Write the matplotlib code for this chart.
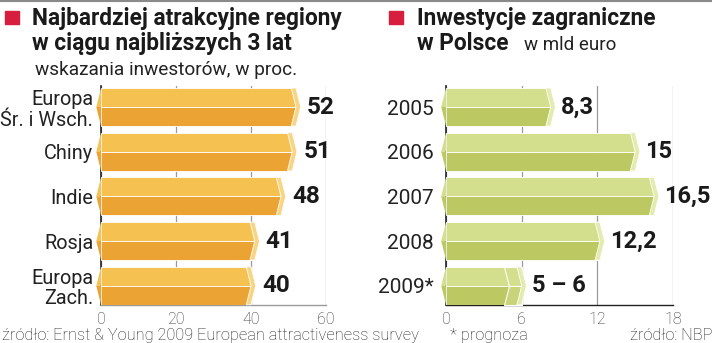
import matplotlib
matplotlib.use('Agg')
import matplotlib.pyplot as plt
from matplotlib.patches import Polygon
from matplotlib.lines import Line2D

plt.rcParams['font.family'] = ['Roboto', 'DejaVu Sans']

# left chart: most attractive regions (investor answers, %)
regions = ['Europa\nŚr. i Wsch.', 'Chiny', 'Indie', 'Rosja', 'Europa\nZach.']
region_pct = [52, 51, 48, 41, 40]
region_ticks = [0, 20, 40, 60]

# right chart: foreign investment in Poland, bn euro
years = ['2005', '2006', '2007', '2008', '2009*']
invest = [8.3, 15, 16.5, 12.2, 5]
invest_hi = [None, None, None, None, 6]   # 2009 forecast range 5-6
invest_labels = ['8,3', '15', '16,5', '12,2', '5 – 6']
invest_ticks = [0, 6, 12, 18]

orange = ('#F5C150', '#EBA434', '#F8D584')
green = ('#D4DF8D', '#BCC962', '#E3EBAE')
red = '#D81E3E'

W, H = 712, 343
fig = plt.figure(figsize=(W / 100, H / 100), dpi=100)


def fx(px):
    return px / W


def fy(py):
    return 1 - py / H


def draw_bars(ax, values, colors, xmax, hi=None):
    h = 0.85
    d = 0.021 * xmax
    light, dark, cap = colors
    for i, v in enumerate(values):
        top, mid, bot = i - h / 2, i, i + h / 2
        ax.barh(i - h / 4, v, height=h / 2, color=light, edgecolor='white', lw=0.6, zorder=3)
        ax.barh(i + h / 4, v, height=h / 2, color=dark, edgecolor='white', lw=0.6, zorder=3)
        # pointed left end
        ax.add_patch(Polygon([(0, top), (-d, mid), (0, mid)], closed=True, fc=light,
                             ec='none', zorder=3, clip_on=False))
        ax.add_patch(Polygon([(0, mid), (-d, mid), (0, bot)], closed=True, fc=dark,
                             ec='none', zorder=3, clip_on=False))
        end = v
        if hi is not None and hi[i] is not None:
            end = hi[i]
            ax.add_patch(Polygon([(v - d, top), (end, top), (end, mid), (v, mid)], closed=True,
                                 fc=light, ec='white', lw=0.8, zorder=4, clip_on=False))
            ax.add_patch(Polygon([(v, mid), (end, mid), (end, bot), (v - d, bot)], closed=True,
                                 fc='#C8D37A', ec='white', lw=0.8, zorder=4, clip_on=False))
        # bevelled right end cap
        ax.add_patch(Polygon([(end - d, top), (end, top), (end + d, mid), (end, bot),
                              (end - d, bot), (end, mid)], closed=True, fc=cap,
                             ec='white', lw=0.6, zorder=5, clip_on=False))


def style_axes(ax, ticks, labels, bottom_color, pad, size):
    ax.set_xlim(ticks[0], ticks[-1])
    ax.set_ylim(4.43, -0.47)
    ax.set_xticks(ticks)
    ax.set_yticks(range(len(labels)), labels)
    ax.grid(axis='x', color='#9A9A9A', lw=0.9, zorder=0)
    ax.set_axisbelow(True)
    ax.tick_params(length=0)
    ax.tick_params(axis='x', pad=5, labelsize=11.5, labelcolor='#333333')
    ax.tick_params(axis='y', pad=pad, labelsize=size, labelcolor='#222222')
    for t in ax.get_xticklabels():
        t.set_fontweight('light')
    for t in ax.get_yticklabels():
        t.set_multialignment('right')
        t.set_linespacing(1.1)
    for s in ['top', 'right']:
        ax.spines[s].set_visible(False)
    ax.spines['left'].set_color('#222222')
    ax.spines['left'].set_linewidth(1.2)
    ax.spines['left'].set_zorder(1)
    ax.spines['bottom'].set_color(bottom_color)
    ax.spines['bottom'].set_linewidth(1.0)
    ax.spines['bottom'].set_zorder(1)


ax1 = fig.add_axes([fx(101), fy(305), (326 - 101) / W, (305 - 86) / H])
ax2 = fig.add_axes([fx(446), fy(305), (673 - 446) / W, (305 - 86) / H])

draw_bars(ax1, region_pct, orange, region_ticks[-1])
style_axes(ax1, region_ticks, regions, '#9A9A9A', 5.5, 14.3)
for i, v in enumerate(region_pct):
    ax1.annotate(str(v), xy=(v, i), xytext=(11, 0), textcoords='offset pixels',
                 va='center', ha='left', fontsize=17.5, fontweight='bold', color='#1A1A1A',
                 annotation_clip=False)

draw_bars(ax2, invest, green, invest_ticks[-1], hi=invest_hi)
style_axes(ax2, invest_ticks, years, '#222222', 9, 15)
for i, v in enumerate(invest):
    end = invest_hi[i] if invest_hi[i] is not None else v
    ax2.annotate(invest_labels[i], xy=(end, i), xytext=(10, 0), textcoords='offset pixels',
                 va='center', ha='left', fontsize=17, fontweight='bold', color='#1A1A1A',
                 annotation_clip=False)

# headings
fig.add_artist(Line2D([0, 1], [fy(1), fy(1)], color='#8A8A8A', lw=1.5))
fig.patches.append(plt.Rectangle((fx(5), fy(24)), 14 / W, 13 / H, color=red,
                                 transform=fig.transFigure, figure=fig))
fig.patches.append(plt.Rectangle((fx(389), fy(24)), 14 / W, 13 / H, color=red,
                                 transform=fig.transFigure, figure=fig))
title_kw = dict(fontsize=16.3, fontweight='bold', color='#1A1A1A', va='baseline')
fig.text(fx(32), fy(25), 'Najbardziej atrakcyjne regiony', **title_kw)
fig.text(fx(32), fy(50), 'w ciągu najbliższych 3 lat', **title_kw)
fig.text(fx(35), fy(75), 'wskazania inwestorów, w proc.', fontsize=13.7,
         color='#222222', va='baseline')
fig.text(fx(417), fy(25), 'Inwestycje zagraniczne', **title_kw)
fig.text(fx(417), fy(50), 'w Polsce', **title_kw)
fig.text(fx(524), fy(50), 'w mld euro', fontsize=13.5, color='#222222', va='baseline')

# footnotes
foot_kw = dict(fontsize=11.8, fontweight='light', color='#222222', va='baseline')
fig.text(fx(2), fy(340), 'źródło: Ernst & Young 2009 European attractiveness survey', **foot_kw)
fig.text(fx(450), fy(340), '* prognoza', **foot_kw)
fig.text(fx(712), fy(340), 'źródło: NBP', ha='right', **foot_kw)

fig.savefig('out.png', dpi=100)
